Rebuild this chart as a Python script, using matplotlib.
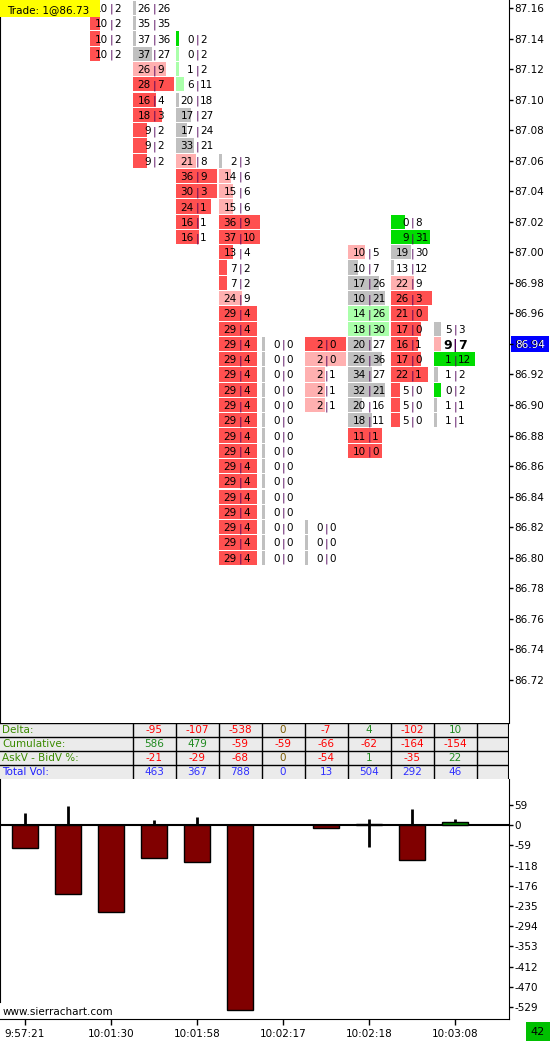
import matplotlib
matplotlib.use("Agg")
import matplotlib.pyplot as plt
from matplotlib.patches import Rectangle
import numpy as np

plt.rcParams["font.family"] = "DejaVu Sans"

W, H = 550, 1041
FS = 7.5

# ---- footprint (numbers bars), one list per column, rows from top price down ----
fp_bar = [2, 3, 4, 5, 6, 7, 8, 9, 10]
fp_top = [87.16, 87.16, 87.14, 87.06, 86.94, 86.94, 87.00, 87.02, 86.95]
fp_bid = [
    [10, 10, 10, 10],
    [26, 35, 37, 37, 26, 28, 16, 18, 9, 9, 9],
    [0, 0, 1, 6, 20, 17, 17, 33, 21, 36, 30, 24, 16, 16],
    [2, 14, 15, 15, 36, 37, 13, 7, 7, 24, 29, 29, 29, 29, 29, 29, 29, 29, 29,
     29, 29, 29, 29, 29, 29, 29, 29],
    [0, 0, 0, 0, 0, 0, 0, 0, 0, 0, 0, 0, 0, 0, 0],
    [2, 2, 2, 2, 2, None, None, None, None, None, None, None, 0, 0, 0],
    [10, 10, 17, 10, 14, 18, 20, 26, 34, 32, 20, 18, 11, 10],
    [0, 9, 19, 13, 22, 26, 21, 17, 16, 17, 22, 5, 5, 5],
    [5, 9, 1, 1, 0, 1, 1],
]
fp_ask = [
    [2, 2, 2, 2],
    [26, 35, 36, 27, 9, 7, 4, 3, 2, 2, 2],
    [2, 2, 2, 11, 18, 27, 24, 21, 8, 9, 3, 1, 1, 1],
    [3, 6, 6, 6, 9, 10, 4, 2, 2, 9, 4, 4, 4, 4, 4, 4, 4, 4, 4,
     4, 4, 4, 4, 4, 4, 4, 4],
    [0, 0, 0, 0, 0, 0, 0, 0, 0, 0, 0, 0, 0, 0, 0],
    [0, 0, 1, 1, 1, None, None, None, None, None, None, None, 0, 0, 0],
    [5, 7, 26, 21, 26, 30, 27, 36, 27, 21, 16, 11, 1, 0],
    [8, 31, 30, 12, 9, 3, 0, 0, 1, 0, 1, 0, 0, 0],
    [3, 7, 12, 2, 2, 1, 1],
]
# R red, P pink, N neutral, L light green, G green
fp_shade = [
    "RRRR",
    "NNNNPRRRRRR",
    "GLLLNNNNPRRRRR",
    "NPPPRRRRRPRRRRRRRRRRRRRRRRR",
    "NNNNNNNNNNNNNNN",
    "RPPPP-------NNN",
    "PNNNLLNNNNNNRR",
    "GGNNPRRRRRRRRR",
    "NPGNGNN",
]
fp_offscreen_max = [33, 21, 0, 0, 0, 0, 0, 0, 0]
last_price = 86.94
trade_text = "Trade: 1@86.73"

# ---- summary table ----
table_bars = [3, 4, 5, 6, 7, 8, 9, 10]
table_labels = ["Delta:", "Cumulative:", "AskV - BidV %:", "Total Vol:"]
delta_row = [-95, -107, -538, 0, -7, 4, -102, 10]
cum_row = [586, 479, -59, -59, -66, -62, -164, -154]
pct_row = [-21, -29, -68, 0, -54, 1, -35, 22]
vol_row = [463, 367, 788, 0, 13, 504, 292, 46]

# ---- delta bars panel ----
bar_close = [-65, -200, -252, -95, -107, -538, 0, -7, 4, -102, 10]
bar_high = [36, 56, 0, 15, 24, 0, 0, 0, 18, 47, 18]
bar_low = [-65, -200, -252, -95, -107, -538, 0, -7, -62, -102, 0]
time_labels = ["9:57:21", "10:01:30", "10:01:58", "10:02:17", "10:02:18", "10:03:08"]
time_bars = [0, 2, 4, 6, 8, 10]

SHADE = {"R": "#ff5050", "P": "#ffb0b0", "N": "#c0c0c0",
         "L": "#aaffaa", "G": "#00dd00"}

fig = plt.figure(figsize=(W / 100, H / 100), dpi=100)
fig.patch.set_facecolor("white")


def px_axes(x0, y0, x1, y1):
    return fig.add_axes([x0 / W, 1 - y1 / H, (x1 - x0) / W, (y1 - y0) / H])


def px_rect(x0, y0, x1, y1, color):
    fig.add_artist(Rectangle((x0 / W, 1 - y1 / H), (x1 - x0) / W, (y1 - y0) / H,
                             transform=fig.transFigure, color=color, lw=0))


XL = (-25 / 43, (509 - 25) / 43)

# main footprint panel
ax = px_axes(0, 0, 509, 723)
ax.set_xlim(*XL)
ax.set_ylim(87.16 - 715 / 1527, 87.16 + 8 / 1527)
for s in ["top", "bottom"]:
    ax.spines[s].set_visible(False)
ax.set_xticks([])
ax.yaxis.tick_right()
pticks = [round(86.72 + 0.02 * k, 2) for k in range(23)]
ax.set_yticks(pticks)
ax.set_yticklabels([f"{p:.2f}" for p in pticks], fontsize=FS)
ax.tick_params(axis="y", length=3, pad=1, width=1)

for bar, top, bids, asks, shades, extra in zip(fp_bar, fp_top, fp_bid, fp_ask,
                                               fp_shade, fp_offscreen_max):
    dmax = max([abs(b - a) for b, a in zip(bids, asks) if b is not None] + [extra])
    for k, (b, a, s) in enumerate(zip(bids, asks, shades)):
        if b is None:
            continue
        price = round(top - 0.01 * k, 2)
        w = 0.953 * abs(b - a) / dmax if dmax else 0
        w = max(w, 0.07)
        ax.barh(price, w, height=0.0093, left=bar - 0.49, color=SHADE[s], lw=0)
        bold = (bar == fp_bar[-1] and price == last_price)
        fw = "bold" if bold else "normal"
        fs = FS + 1.5 if bold else FS
        ax.text(bar - 0.075, price, str(b), ha="right", va="center_baseline",
                fontsize=fs, fontweight=fw, color="black")
        ax.text(bar, price, "|", ha="center", va="center_baseline",
                fontsize=fs, fontweight=fw, color="#50005a")
        ax.text(bar + 0.075, price, str(a), ha="left", va="center_baseline",
                fontsize=fs, fontweight=fw, color="black")

# current price label on the axis
ax.add_patch(Rectangle((1 + 2 / 509, last_price - 0.0053), 38 / 509, 0.0106,
                       transform=ax.get_yaxis_transform(), color="#0000ff",
                       clip_on=False, lw=0))
ax.text(1 + 21 / 509, last_price, f"{last_price:.2f}", transform=ax.get_yaxis_transform(),
        ha="center", va="center_baseline", color="white", fontsize=FS, clip_on=False)

# trade label
px_rect(0, 0, 100, 17, "#ffff00")
fig.text(7 / W, 1 - 9 / H, trade_text, fontsize=FS, va="center_baseline", ha="left")

# table
axt = px_axes(0, 723, 509, 779)
axt.set_xlim(*XL)
axt.set_ylim(4, 0)
axt.axis("off")
axt.add_patch(Rectangle((0, 0), 1, 1, transform=axt.transAxes, color="#ebebeb", lw=0))
for r in range(4):
    axt.axhline(r, color="black", lw=1)
for b in table_bars + [table_bars[-1] + 1]:
    axt.axvline(b - 0.5, color="black", lw=1)
axt.axvline(XL[1], color="black", lw=1.5)


def val_color(v):
    if v > 0:
        return "#1f8a1f"
    if v < 0:
        return "#ff0000"
    return "#7a5a00"


for r, lab in enumerate(table_labels):
    axt.text(2 / 509, r + 0.5, lab, transform=axt.get_yaxis_transform(),
             fontsize=FS, va="center", ha="left",
             color="#2020ff" if r == 3 else "#3a8a00")
for b, d, c, p, v in zip(table_bars, delta_row, cum_row, pct_row, vol_row):
    for r, val in enumerate([d, c, p]):
        axt.text(b, r + 0.5, str(val), ha="center", va="center", fontsize=FS,
                 color=val_color(val))
    axt.text(b, 3.5, str(v), ha="center", va="center", fontsize=FS, color="#3030ff")

# delta bars panel
axb = px_axes(0, 779, 509, 1019)
axb.set_xlim(*XL)
axb.set_ylim(-(1019 - 825.3) / 0.3435, 46.3 / 0.3435)
xs = np.arange(len(bar_close))
axb.vlines(xs, bar_low, bar_high, color="black", lw=2, zorder=2)
axb.axhline(0, color="black", lw=1.5, zorder=3)
axb.bar(xs, bar_close, width=0.6,
        color=["#008000" if c > 0 else "#800000" for c in bar_close],
        edgecolor=["black" if c != 0 else "none" for c in bar_close], lw=1, zorder=4)
axb.spines["top"].set_visible(False)
axb.spines["left"].set_bounds(-(1002 - 825.3) / 0.3435, 46.3 / 0.3435)
axb.yaxis.tick_right()
yt = np.arange(1, -10, -1) * 58.8
axb.set_yticks(yt)
axb.set_yticklabels([f"{v:.0f}" for v in yt], fontsize=FS)
axb.tick_params(axis="y", length=3, pad=1, width=1)
axb.set_xticks(time_bars)
axb.set_xticklabels(time_labels, fontsize=FS)
axb.tick_params(axis="x", length=4, pad=3, width=1)
fig.text(3 / W, 1 - 1012 / H, "www.sierrachart.com", fontsize=FS, va="center", ha="left")

# bar count box
px_rect(526, 1022, 550, 1041, "#00c000")
fig.text(538 / W, 1 - 1032 / H, "42", fontsize=FS + 0.5, ha="center", va="center")

fig.savefig("out.png", dpi=100)
